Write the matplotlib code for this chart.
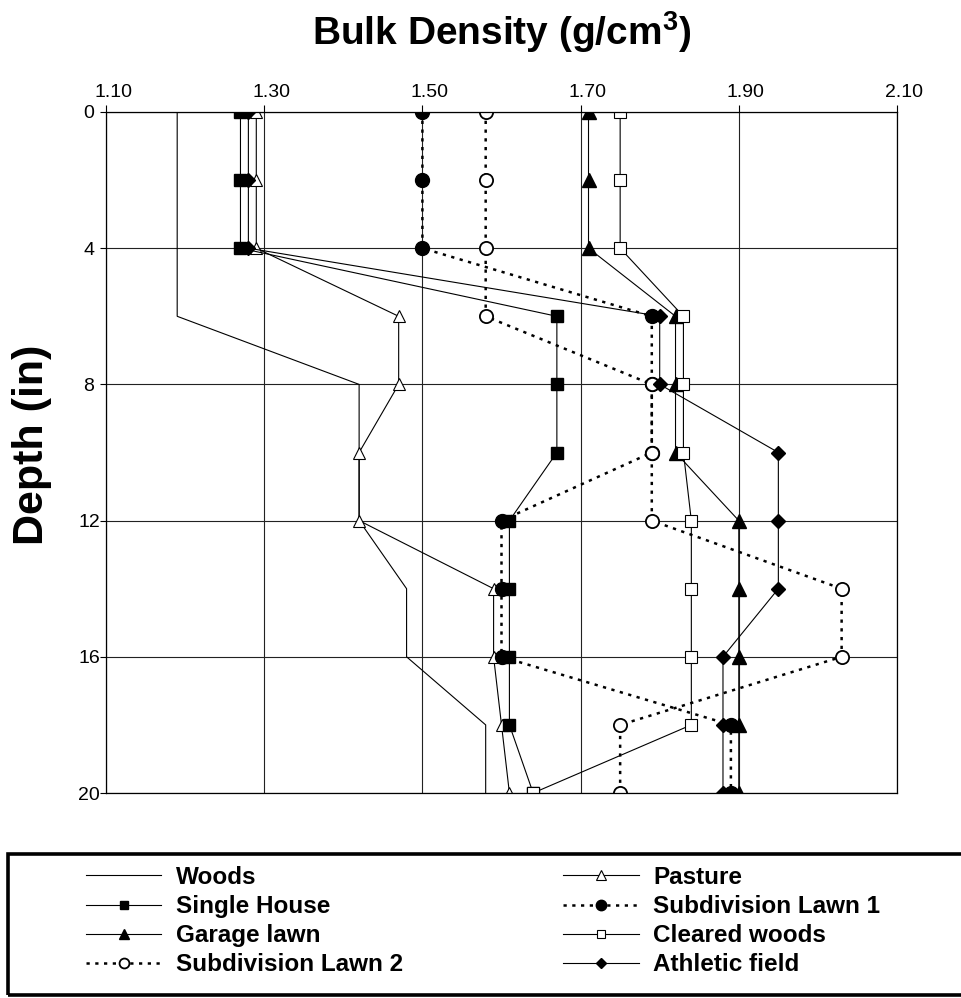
import matplotlib
matplotlib.use('Agg')
import matplotlib.pyplot as plt
from matplotlib.patches import Rectangle
from matplotlib.transforms import ScaledTranslation

plt.rcParams['font.family'] = ['Liberation Sans', 'DejaVu Sans']
plt.rcParams['mathtext.fontset'] = 'custom'
plt.rcParams['mathtext.rm'] = 'Liberation Sans'
plt.rcParams['mathtext.bf'] = 'Liberation Sans:bold'

# depth (in) and bulk density (g/cm3)
depth = [0, 2, 4, 6, 8, 10, 12, 14, 16, 18, 20]
woods = [1.19, 1.19, 1.19, 1.19, 1.42, 1.42, 1.42, 1.48, 1.48, 1.58, 1.58]
pasture = [1.29, 1.29, 1.29, 1.47, 1.47, 1.42, 1.42, 1.59, 1.59, 1.60, 1.61]
single_house = [1.27, 1.27, 1.27, 1.67, 1.67, 1.67, 1.61, 1.61, 1.61, 1.61, 1.64]
sub_lawn1 = [1.50, 1.50, 1.50, 1.79, 1.79, 1.79, 1.60, 1.60, 1.60, 1.89, 1.89]
garage_lawn = [1.71, 1.71, 1.71, 1.82, 1.82, 1.82, 1.90, 1.90, 1.90, 1.90, 1.90]
cleared_woods = [1.75, 1.75, 1.75, 1.83, 1.83, 1.83, 1.84, 1.84, 1.84, 1.84, 1.64]
sub_lawn2 = [1.58, 1.58, 1.58, 1.58, 1.79, 1.79, 1.79, 2.03, 2.03, 1.75, 1.75]
athletic = [1.28, 1.28, 1.28, 1.80, 1.80, 1.95, 1.95, 1.95, 1.88, 1.88, 1.88]

x_ticks = [1.10, 1.30, 1.50, 1.70, 1.90, 2.10]
y_ticks = [0, 4, 8, 12, 16, 20]

W, H = 961, 998
fig = plt.figure(figsize=(W / 100, H / 100), dpi=100)
ax = fig.add_axes([106 / W, 205 / H, 791 / W, 681 / H])

dotted = (0, (1.3, 2.2))
solid = dict(color='black', lw=0.8)

ax.plot(woods, depth, label='Woods', **solid)
ax.plot(pasture, depth, label='Pasture', marker='^', ms=9, mfc='white', mec='black', mew=0.8, **solid)
ax.plot(single_house, depth, label='Single House', marker='s', ms=8.5, mfc='black', mec='black', **solid)
ax.plot(sub_lawn1, depth, label='Subdivision Lawn 1', color='black', lw=1.8, ls=dotted,
        marker='o', ms=10, mfc='black', mec='black')
ax.plot(garage_lawn, depth, label='Garage lawn', marker='^', ms=9.5, mfc='black', mec='black', **solid)
ax.plot(cleared_woods, depth, label='Cleared woods', marker='s', ms=8.5, mfc='white', mec='black', mew=0.8, **solid)
ax.plot(sub_lawn2, depth, label='Subdivision Lawn 2', color='black', lw=1.8, ls=dotted,
        marker='o', ms=9.5, mfc='white', mec='black', mew=1.3)
ax.plot(athletic, depth, label='Athletic field', marker='D', ms=7, mfc='black', mec='black', **solid)

ax.set_xlim(1.10, 2.10)
ax.set_ylim(20, 0)
ax.xaxis.tick_top()
ax.set_xticks(x_ticks)
ax.set_xticklabels([f'{v:.2f}' for v in x_ticks])
ax.set_yticks(y_ticks)
ax.grid(True, color='#222222', lw=0.8)
ax.set_axisbelow(True)
for s in ax.spines.values():
    s.set_linewidth(0.9)
ax.tick_params(axis='x', direction='out', length=5, width=0.8, labelsize=14, pad=3)
ax.tick_params(axis='y', direction='out', length=4.3, width=0.8, labelsize=14, pad=8)

# labels in the original sit a little right of their ticks
shift = ScaledTranslation(7 / 100, 0, fig.dpi_scale_trans)
for lbl in ax.get_xticklabels():
    lbl.set_transform(lbl.get_transform() + shift)
for lbl in ax.get_yticklabels():
    lbl.set_horizontalalignment('center')

fig.text(502 / W, 1 - 45 / H, r'Bulk Density (g/cm$^{\mathbf{3}}$)', ha='center', va='baseline',
         fontsize=28, fontweight='bold')
fig.text(32 / W, 1 - 445 / H, 'Depth (in)', rotation=90, ha='center', va='center',
         fontsize=31, fontweight='bold')

# legend, column-major order
h, l = ax.get_legend_handles_labels()
order = ['Woods', 'Single House', 'Garage lawn', 'Subdivision Lawn 2',
         'Pasture', 'Subdivision Lawn 1', 'Cleared woods', 'Athletic field']
hd = dict(zip(l, h))
fig.legend([hd[k] for k in order], order, ncol=2, loc='upper left',
           bbox_to_anchor=(86 / W, 1 - 866 / H), frameon=False, borderpad=0, borderaxespad=0,
           handlelength=3.1, handletextpad=0.6, columnspacing=6.6, labelspacing=0.25,
           markerscale=0.75, prop={'size': 17.5, 'weight': 'bold'})
fig.add_artist(Rectangle((8 / W, 3 / H), 1.0, 141 / H, transform=fig.transFigure,
                         fill=False, lw=2.6, ec='black'))

fig.savefig('out.png', dpi=100)
